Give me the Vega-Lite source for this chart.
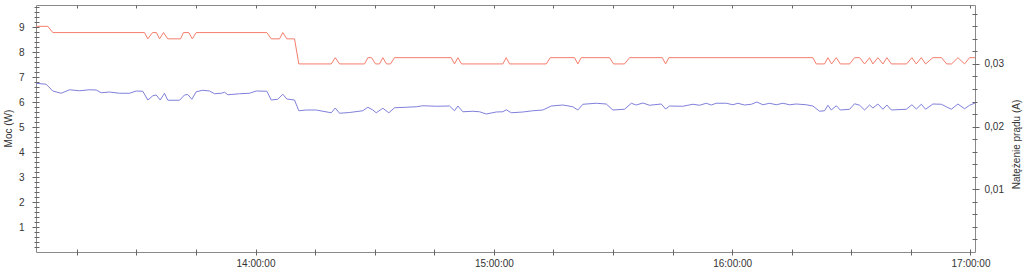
{
  "$schema": "https://vega.github.io/schema/vega-lite/v6.json",
  "width": 939,
  "height": 247,
  "autosize": {"type": "none"},
  "padding": {"left": 36, "top": 5, "right": 49, "bottom": 22},
  "background": "white",
  "config": {
    "view": {"stroke": "#8a8a8a", "strokeWidth": 1},
    "axis": {"labelFont": "Liberation Sans", "titleFont": "Liberation Sans", "labelFontSize": 10, "titleFontSize": 10, "labelColor": "#333333", "titleColor": "#333333", "titleFontWeight": "normal", "tickColor": "#666666", "domain": false, "grid": false}
  },
  "datasets": {
    "power": [
      {"t": "2024-01-01T13:04:44", "w": 6.75}, {"t": "2024-01-01T13:07:18", "w": 6.71}, {"t": "2024-01-01T13:08:58", "w": 6.44}, {"t": "2024-01-01T13:11:05", "w": 6.35},
      {"t": "2024-01-01T13:13:10", "w": 6.49}, {"t": "2024-01-01T13:15:41", "w": 6.45}, {"t": "2024-01-01T13:18:12", "w": 6.49}, {"t": "2024-01-01T13:19:53", "w": 6.48},
      {"t": "2024-01-01T13:21:09", "w": 6.37}, {"t": "2024-01-01T13:23:14", "w": 6.40}, {"t": "2024-01-01T13:25:45", "w": 6.35}, {"t": "2024-01-01T13:28:17", "w": 6.35},
      {"t": "2024-01-01T13:29:58", "w": 6.44}, {"t": "2024-01-01T13:31:37", "w": 6.43}, {"t": "2024-01-01T13:32:53", "w": 6.08}, {"t": "2024-01-01T13:34:09", "w": 6.25},
      {"t": "2024-01-01T13:35:00", "w": 6.28}, {"t": "2024-01-01T13:36:00", "w": 6.08}, {"t": "2024-01-01T13:37:05", "w": 6.35}, {"t": "2024-01-01T13:37:55", "w": 6.07},
      {"t": "2024-01-01T13:40:52", "w": 6.07}, {"t": "2024-01-01T13:42:07", "w": 6.28}, {"t": "2024-01-01T13:42:57", "w": 6.30}, {"t": "2024-01-01T13:43:58", "w": 6.11},
      {"t": "2024-01-01T13:45:04", "w": 6.41}, {"t": "2024-01-01T13:46:44", "w": 6.47}, {"t": "2024-01-01T13:48:25", "w": 6.44}, {"t": "2024-01-01T13:49:41", "w": 6.33},
      {"t": "2024-01-01T13:51:22", "w": 6.35}, {"t": "2024-01-01T13:52:12", "w": 6.39}, {"t": "2024-01-01T13:53:02", "w": 6.29}, {"t": "2024-01-01T13:55:58", "w": 6.33},
      {"t": "2024-01-01T13:58:29", "w": 6.35}, {"t": "2024-01-01T14:00:11", "w": 6.44}, {"t": "2024-01-01T14:02:51", "w": 6.43}, {"t": "2024-01-01T14:03:57", "w": 6.08},
      {"t": "2024-01-01T14:05:37", "w": 6.11}, {"t": "2024-01-01T14:06:52", "w": 6.31}, {"t": "2024-01-01T14:07:53", "w": 6.12}, {"t": "2024-01-01T14:09:49", "w": 6.08},
      {"t": "2024-01-01T14:10:54", "w": 5.65}, {"t": "2024-01-01T14:12:46", "w": 5.68}, {"t": "2024-01-01T14:15:17", "w": 5.68}, {"t": "2024-01-01T14:16:57", "w": 5.63},
      {"t": "2024-01-01T14:19:04", "w": 5.57}, {"t": "2024-01-01T14:20:04", "w": 5.76}, {"t": "2024-01-01T14:21:09", "w": 5.55}, {"t": "2024-01-01T14:23:40", "w": 5.58},
      {"t": "2024-01-01T14:27:01", "w": 5.65}, {"t": "2024-01-01T14:28:17", "w": 5.79}, {"t": "2024-01-01T14:29:32", "w": 5.68}, {"t": "2024-01-01T14:30:23", "w": 5.57},
      {"t": "2024-01-01T14:32:03", "w": 5.75}, {"t": "2024-01-01T14:33:34", "w": 5.57}, {"t": "2024-01-01T14:35:00", "w": 5.77}, {"t": "2024-01-01T14:37:57", "w": 5.79},
      {"t": "2024-01-01T14:40:28", "w": 5.81}, {"t": "2024-01-01T14:42:07", "w": 5.85}, {"t": "2024-01-01T14:45:30", "w": 5.83}, {"t": "2024-01-01T14:48:51", "w": 5.84},
      {"t": "2024-01-01T14:50:06", "w": 5.65}, {"t": "2024-01-01T14:50:56", "w": 5.84}, {"t": "2024-01-01T14:52:12", "w": 5.61}, {"t": "2024-01-01T14:54:43", "w": 5.63},
      {"t": "2024-01-01T14:56:24", "w": 5.61}, {"t": "2024-01-01T14:58:05", "w": 5.52}, {"t": "2024-01-01T15:00:36", "w": 5.60}, {"t": "2024-01-01T15:02:16", "w": 5.61},
      {"t": "2024-01-01T15:03:07", "w": 5.69}, {"t": "2024-01-01T15:04:23", "w": 5.57}, {"t": "2024-01-01T15:07:18", "w": 5.60}, {"t": "2024-01-01T15:09:49", "w": 5.65},
      {"t": "2024-01-01T15:12:20", "w": 5.68}, {"t": "2024-01-01T15:14:27", "w": 5.84}, {"t": "2024-01-01T15:17:22", "w": 5.88}, {"t": "2024-01-01T15:19:53", "w": 5.81},
      {"t": "2024-01-01T15:21:09", "w": 5.68}, {"t": "2024-01-01T15:22:25", "w": 5.91}, {"t": "2024-01-01T15:25:47", "w": 5.95}, {"t": "2024-01-01T15:28:18", "w": 5.92},
      {"t": "2024-01-01T15:29:58", "w": 5.68}, {"t": "2024-01-01T15:32:54", "w": 5.71}, {"t": "2024-01-01T15:34:36", "w": 5.95}, {"t": "2024-01-01T15:35:51", "w": 5.88},
      {"t": "2024-01-01T15:37:31", "w": 5.96}, {"t": "2024-01-01T15:39:12", "w": 5.87}, {"t": "2024-01-01T15:42:09", "w": 5.92}, {"t": "2024-01-01T15:43:14", "w": 5.72},
      {"t": "2024-01-01T15:44:14", "w": 5.84}, {"t": "2024-01-01T15:47:35", "w": 5.83}, {"t": "2024-01-01T15:50:06", "w": 5.91}, {"t": "2024-01-01T15:51:48", "w": 5.87},
      {"t": "2024-01-01T15:53:29", "w": 5.95}, {"t": "2024-01-01T15:54:44", "w": 5.88}, {"t": "2024-01-01T15:56:00", "w": 5.95}, {"t": "2024-01-01T15:58:31", "w": 5.95},
      {"t": "2024-01-01T16:00:11", "w": 5.89}, {"t": "2024-01-01T16:01:26", "w": 5.95}, {"t": "2024-01-01T16:03:07", "w": 5.88}, {"t": "2024-01-01T16:04:49", "w": 5.91},
      {"t": "2024-01-01T16:06:13", "w": 6.00}, {"t": "2024-01-01T16:07:44", "w": 5.89}, {"t": "2024-01-01T16:09:25", "w": 5.95}, {"t": "2024-01-01T16:11:06", "w": 5.89},
      {"t": "2024-01-01T16:12:46", "w": 5.95}, {"t": "2024-01-01T16:14:27", "w": 5.89}, {"t": "2024-01-01T16:16:08", "w": 5.92}, {"t": "2024-01-01T16:18:39", "w": 5.89},
      {"t": "2024-01-01T16:20:19", "w": 5.84}, {"t": "2024-01-01T16:22:00", "w": 5.63}, {"t": "2024-01-01T16:23:16", "w": 5.65}, {"t": "2024-01-01T16:24:06", "w": 5.87},
      {"t": "2024-01-01T16:24:57", "w": 5.68}, {"t": "2024-01-01T16:26:13", "w": 5.85}, {"t": "2024-01-01T16:27:13", "w": 5.68}, {"t": "2024-01-01T16:29:34", "w": 5.71},
      {"t": "2024-01-01T16:30:49", "w": 5.93}, {"t": "2024-01-01T16:32:05", "w": 5.87}, {"t": "2024-01-01T16:33:20", "w": 5.68}, {"t": "2024-01-01T16:34:36", "w": 5.88},
      {"t": "2024-01-01T16:35:26", "w": 5.76}, {"t": "2024-01-01T16:36:41", "w": 5.92}, {"t": "2024-01-01T16:37:57", "w": 5.71}, {"t": "2024-01-01T16:38:57", "w": 5.88},
      {"t": "2024-01-01T16:40:04", "w": 5.68}, {"t": "2024-01-01T16:43:50", "w": 5.71}, {"t": "2024-01-01T16:45:15", "w": 5.89}, {"t": "2024-01-01T16:46:21", "w": 5.72},
      {"t": "2024-01-01T16:47:37", "w": 5.91}, {"t": "2024-01-01T16:48:42", "w": 5.71}, {"t": "2024-01-01T16:50:32", "w": 5.92}, {"t": "2024-01-01T16:52:39", "w": 5.91},
      {"t": "2024-01-01T16:53:54", "w": 5.81}, {"t": "2024-01-01T16:55:10", "w": 5.71}, {"t": "2024-01-01T16:56:50", "w": 5.92}, {"t": "2024-01-01T16:58:31", "w": 5.73},
      {"t": "2024-01-01T16:59:46", "w": 5.87}, {"t": "2024-01-01T17:01:08", "w": 5.96}
    ],
    "current": [
      {"t": "2024-01-01T13:04:44", "a": 0.036}, {"t": "2024-01-01T13:07:42", "a": 0.036}, {"t": "2024-01-01T13:08:58", "a": 0.035}, {"t": "2024-01-01T13:32:03", "a": 0.035},
      {"t": "2024-01-01T13:32:53", "a": 0.034}, {"t": "2024-01-01T13:34:04", "a": 0.035}, {"t": "2024-01-01T13:35:04", "a": 0.035}, {"t": "2024-01-01T13:35:50", "a": 0.034},
      {"t": "2024-01-01T13:36:50", "a": 0.035}, {"t": "2024-01-01T13:37:55", "a": 0.034}, {"t": "2024-01-01T13:41:07", "a": 0.034}, {"t": "2024-01-01T13:41:52", "a": 0.035},
      {"t": "2024-01-01T13:43:12", "a": 0.035}, {"t": "2024-01-01T13:44:04", "a": 0.034}, {"t": "2024-01-01T13:45:04", "a": 0.035}, {"t": "2024-01-01T14:02:51", "a": 0.035},
      {"t": "2024-01-01T14:03:57", "a": 0.034}, {"t": "2024-01-01T14:06:03", "a": 0.034}, {"t": "2024-01-01T14:06:52", "a": 0.035}, {"t": "2024-01-01T14:07:53", "a": 0.034},
      {"t": "2024-01-01T14:09:49", "a": 0.034}, {"t": "2024-01-01T14:10:54", "a": 0.030}, {"t": "2024-01-01T14:19:04", "a": 0.030}, {"t": "2024-01-01T14:20:04", "a": 0.031},
      {"t": "2024-01-01T14:21:09", "a": 0.030}, {"t": "2024-01-01T14:27:27", "a": 0.030}, {"t": "2024-01-01T14:28:17", "a": 0.031}, {"t": "2024-01-01T14:29:12", "a": 0.031},
      {"t": "2024-01-01T14:30:13", "a": 0.030}, {"t": "2024-01-01T14:31:13", "a": 0.030}, {"t": "2024-01-01T14:32:03", "a": 0.031}, {"t": "2024-01-01T14:32:59", "a": 0.030},
      {"t": "2024-01-01T14:33:59", "a": 0.030}, {"t": "2024-01-01T14:35:00", "a": 0.031}, {"t": "2024-01-01T14:49:16", "a": 0.031}, {"t": "2024-01-01T14:50:06", "a": 0.030},
      {"t": "2024-01-01T14:50:56", "a": 0.031}, {"t": "2024-01-01T14:51:52", "a": 0.030}, {"t": "2024-01-01T15:02:16", "a": 0.030}, {"t": "2024-01-01T15:03:07", "a": 0.031},
      {"t": "2024-01-01T15:03:57", "a": 0.030}, {"t": "2024-01-01T15:13:12", "a": 0.030}, {"t": "2024-01-01T15:14:12", "a": 0.031}, {"t": "2024-01-01T15:20:19", "a": 0.031},
      {"t": "2024-01-01T15:21:09", "a": 0.030}, {"t": "2024-01-01T15:22:00", "a": 0.031}, {"t": "2024-01-01T15:29:08", "a": 0.031}, {"t": "2024-01-01T15:30:08", "a": 0.030},
      {"t": "2024-01-01T15:32:54", "a": 0.030}, {"t": "2024-01-01T15:34:10", "a": 0.031}, {"t": "2024-01-01T15:42:24", "a": 0.031}, {"t": "2024-01-01T15:43:14", "a": 0.030},
      {"t": "2024-01-01T15:44:04", "a": 0.031}, {"t": "2024-01-01T16:20:19", "a": 0.031}, {"t": "2024-01-01T16:21:10", "a": 0.030}, {"t": "2024-01-01T16:23:16", "a": 0.030},
      {"t": "2024-01-01T16:24:06", "a": 0.031}, {"t": "2024-01-01T16:25:02", "a": 0.030}, {"t": "2024-01-01T16:26:13", "a": 0.031}, {"t": "2024-01-01T16:27:13", "a": 0.030},
      {"t": "2024-01-01T16:29:34", "a": 0.030}, {"t": "2024-01-01T16:30:49", "a": 0.031}, {"t": "2024-01-01T16:32:05", "a": 0.031}, {"t": "2024-01-01T16:33:20", "a": 0.030},
      {"t": "2024-01-01T16:34:36", "a": 0.031}, {"t": "2024-01-01T16:35:26", "a": 0.030}, {"t": "2024-01-01T16:36:41", "a": 0.031}, {"t": "2024-01-01T16:37:57", "a": 0.030},
      {"t": "2024-01-01T16:38:57", "a": 0.031}, {"t": "2024-01-01T16:40:04", "a": 0.030}, {"t": "2024-01-01T16:43:55", "a": 0.030}, {"t": "2024-01-01T16:45:15", "a": 0.031},
      {"t": "2024-01-01T16:46:21", "a": 0.030}, {"t": "2024-01-01T16:47:37", "a": 0.031}, {"t": "2024-01-01T16:48:42", "a": 0.030}, {"t": "2024-01-01T16:50:32", "a": 0.031},
      {"t": "2024-01-01T16:52:43", "a": 0.031}, {"t": "2024-01-01T16:53:59", "a": 0.030}, {"t": "2024-01-01T16:55:14", "a": 0.030}, {"t": "2024-01-01T16:56:50", "a": 0.031},
      {"t": "2024-01-01T16:58:31", "a": 0.030}, {"t": "2024-01-01T16:59:46", "a": 0.031}, {"t": "2024-01-01T17:01:08", "a": 0.031}
    ]
  },
  "layer": [
    {
      "data": {"name": "power"},
      "mark": {"type": "line", "color": "#8080dc", "strokeWidth": 1, "clip": true},
      "encoding": {
        "x": {
          "field": "t", "type": "temporal", "title": null,
          "scale": {"domain": [{"year": 2024, "month": 1, "date": 1, "hours": 13, "minutes": 4, "seconds": 44}, {"year": 2024, "month": 1, "date": 1, "hours": 17, "minutes": 1, "seconds": 8}]},
          "axis": {
            "orient": "bottom", "offset": -3, "tickSize": 6, "labelPadding": 3, "labelOverlap": false, "labelFlush": false,
            "values": [
              {"year": 2024, "month": 1, "date": 1, "hours": 13, "minutes": 15}, {"year": 2024, "month": 1, "date": 1, "hours": 13, "minutes": 30}, {"year": 2024, "month": 1, "date": 1, "hours": 13, "minutes": 45},
              {"year": 2024, "month": 1, "date": 1, "hours": 14, "minutes": 0}, {"year": 2024, "month": 1, "date": 1, "hours": 14, "minutes": 15}, {"year": 2024, "month": 1, "date": 1, "hours": 14, "minutes": 30}, {"year": 2024, "month": 1, "date": 1, "hours": 14, "minutes": 45},
              {"year": 2024, "month": 1, "date": 1, "hours": 15, "minutes": 0}, {"year": 2024, "month": 1, "date": 1, "hours": 15, "minutes": 15}, {"year": 2024, "month": 1, "date": 1, "hours": 15, "minutes": 30}, {"year": 2024, "month": 1, "date": 1, "hours": 15, "minutes": 45},
              {"year": 2024, "month": 1, "date": 1, "hours": 16, "minutes": 0}, {"year": 2024, "month": 1, "date": 1, "hours": 16, "minutes": 15}, {"year": 2024, "month": 1, "date": 1, "hours": 16, "minutes": 30}, {"year": 2024, "month": 1, "date": 1, "hours": 16, "minutes": 45},
              {"year": 2024, "month": 1, "date": 1, "hours": 17, "minutes": 0}
            ],
            "labelExpr": "minutes(datum.value) === 0 ? timeFormat(datum.value, '%H:%M:%S') : ''"
          }
        },
        "y": {
          "field": "w", "type": "quantitative", "title": "Moc (W)",
          "scale": {"domain": [0, 9.88], "nice": false, "zero": false},
          "axis": {
            "orient": "left", "offset": -3, "labelPadding": 8,
            "tickSize": {"condition": {"test": "datum.value % 1 === 0", "value": 7}, "value": 5},
            "values": [0.2,0.4,0.6,0.8,1,1.2,1.4,1.6,1.8,2,2.2,2.4,2.6,2.8,3,3.2,3.4,3.6,3.8,4,4.2,4.4,4.6,4.8,5,5.2,5.4,5.6,5.8,6,6.2,6.4,6.6,6.8,7,7.2,7.4,7.6,7.8,8,8.2,8.4,8.6,8.8,9,9.2,9.4,9.6,9.8],
            "labelExpr": "datum.value % 1 === 0 ? format(datum.value, 'd') : ''",
            "labelOverlap": false, "labelFlush": false,
            "titleX": -31, "titleY": 123, "titleAngle": 270, "titleAlign": "center", "titleBaseline": "middle"
          }
        }
      }
    },
    {
      "data": {"name": "current"},
      "mark": {"type": "line", "color": "#f47d6c", "strokeWidth": 1, "clip": true},
      "encoding": {
        "x": {
          "field": "t", "type": "temporal", "title": null,
          "scale": {"domain": [{"year": 2024, "month": 1, "date": 1, "hours": 13, "minutes": 4, "seconds": 44}, {"year": 2024, "month": 1, "date": 1, "hours": 17, "minutes": 1, "seconds": 8}]},
          "axis": {
            "orient": "top", "offset": -3, "tickSize": 3, "labels": false,
            "values": [
              {"year": 2024, "month": 1, "date": 1, "hours": 13, "minutes": 15}, {"year": 2024, "month": 1, "date": 1, "hours": 13, "minutes": 30}, {"year": 2024, "month": 1, "date": 1, "hours": 13, "minutes": 45},
              {"year": 2024, "month": 1, "date": 1, "hours": 14, "minutes": 0}, {"year": 2024, "month": 1, "date": 1, "hours": 14, "minutes": 15}, {"year": 2024, "month": 1, "date": 1, "hours": 14, "minutes": 30}, {"year": 2024, "month": 1, "date": 1, "hours": 14, "minutes": 45},
              {"year": 2024, "month": 1, "date": 1, "hours": 15, "minutes": 0}, {"year": 2024, "month": 1, "date": 1, "hours": 15, "minutes": 15}, {"year": 2024, "month": 1, "date": 1, "hours": 15, "minutes": 30}, {"year": 2024, "month": 1, "date": 1, "hours": 15, "minutes": 45},
              {"year": 2024, "month": 1, "date": 1, "hours": 16, "minutes": 0}, {"year": 2024, "month": 1, "date": 1, "hours": 16, "minutes": 15}, {"year": 2024, "month": 1, "date": 1, "hours": 16, "minutes": 30}, {"year": 2024, "month": 1, "date": 1, "hours": 16, "minutes": 45},
              {"year": 2024, "month": 1, "date": 1, "hours": 17, "minutes": 0}
            ]
          }
        },
        "y": {
          "field": "a", "type": "quantitative", "title": "Natężenie prądu (A)",
          "scale": {"domain": [0, 0.0394], "nice": false, "zero": false},
          "axis": {
            "orient": "right", "offset": -3, "labelPadding": 5,
            "tickSize": {"condition": {"test": "abs(datum.value * 100 - round(datum.value * 100)) < 1e-6", "value": 7}, "value": 5},
            "values": [0.002,0.004,0.006,0.008,0.01,0.012,0.014,0.016,0.018,0.02,0.022,0.024,0.026,0.028,0.03,0.032,0.034,0.036,0.038],
            "labelExpr": "abs(datum.value * 100 - round(datum.value * 100)) < 1e-6 ? replace(format(datum.value, '.2f'), '.', ',') : ''",
            "labelOverlap": false, "labelFlush": false,
            "titleX": 44, "titleY": 139, "titleAngle": 270, "titleAlign": "center", "titleBaseline": "middle"
          }
        }
      }
    }
  ],
  "resolve": {"scale": {"y": "independent"}, "axis": {"x": "independent"}}
}
